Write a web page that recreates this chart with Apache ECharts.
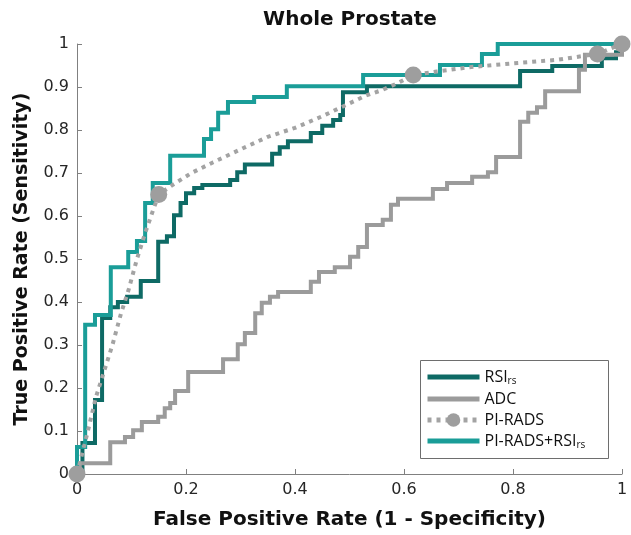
<!DOCTYPE html>
<html>
<head>
<meta charset="utf-8">
<script src="https://cdn.jsdelivr.net/npm/echarts@6/dist/echarts.min.js"></script>
<style>
html,body{margin:0;padding:0;background:#fff;}
#chart{width:631px;height:535px;}
</style>
</head>
<body>
<div id="chart"></div>
<script>
// ---- data ----
const titleText = 'Whole Prostate';
const xName = 'False Positive Rate (1 - Specificity)';
const yName = 'True Positive Rate (Sensitivity)';
const seriesNames = ['RSI_rs', 'ADC', 'PI-RADS', 'PI-RADS+RSI_rs'];
const xTicks = [0, 0.2, 0.4, 0.6, 0.8, 1];
const yTicks = [0, 0.1, 0.2, 0.3, 0.4, 0.5, 0.6, 0.7, 0.8, 0.9, 1];

// RSI_rs ROC step points (fpr, tpr)
const fprRSI = [0,0.01,0.033,0.046,0.061,0.075,0.092,0.117,0.149,0.165,0.178,0.19,0.2,0.215,0.23,0.281,0.294,0.308,0.358,0.372,0.387,0.429,0.45,0.47,0.483,0.488,0.532,0.813,0.872,0.963,0.989,1];
const tprRSI = [0,0.072,0.172,0.363,0.388,0.4,0.412,0.449,0.54,0.553,0.602,0.63,0.653,0.665,0.672,0.684,0.702,0.72,0.745,0.76,0.774,0.793,0.81,0.823,0.835,0.888,0.902,0.937,0.949,0.967,0.981,1];

// ADC ROC step points
const fprADC = [0,0.005,0.061,0.088,0.103,0.119,0.149,0.161,0.171,0.18,0.204,0.268,0.295,0.308,0.327,0.339,0.354,0.369,0.429,0.444,0.473,0.501,0.516,0.532,0.561,0.576,0.589,0.653,0.679,0.725,0.754,0.769,0.813,0.828,0.844,0.859,0.921,0.932,1];
const tprADC = [0,0.025,0.074,0.086,0.102,0.121,0.133,0.153,0.165,0.193,0.237,0.267,0.302,0.328,0.374,0.398,0.412,0.423,0.447,0.47,0.481,0.505,0.528,0.579,0.591,0.626,0.64,0.663,0.677,0.691,0.702,0.737,0.819,0.84,0.853,0.89,0.94,0.975,1];

// PI-RADS curve (dotted) and its operating points (markers)
const fprPIRADS = [0,0.01,0.02,0.035,0.05,0.065,0.08,0.095,0.11,0.125,0.14,0.15,0.175,0.21,0.25,0.3,0.35,0.4,0.45,0.5,0.53,0.56,0.59,0.617,0.66,0.72,0.8,0.88,0.955,1];
const tprPIRADS = [0,0.05,0.1,0.18,0.24,0.3,0.37,0.43,0.5,0.56,0.615,0.65,0.672,0.7,0.725,0.755,0.784,0.805,0.832,0.862,0.88,0.893,0.91,0.928,0.936,0.946,0.955,0.963,0.977,1];
const markerIdxPIRADS = [0, 11, 23, 28, 29];

// PI-RADS+RSI_rs ROC step points
const fprCombo = [0,0,0.015,0.033,0.062,0.094,0.11,0.125,0.139,0.171,0.233,0.246,0.259,0.277,0.325,0.385,0.525,0.666,0.743,0.772,1];
const tprCombo = [0,0.063,0.347,0.37,0.481,0.516,0.542,0.63,0.677,0.74,0.779,0.802,0.84,0.865,0.877,0.902,0.928,0.951,0.977,1,1];

// ---- build ----
const zip = (a, b) => a.map((v, i) => [v, b[i]]);
const colors = {rsi: '#0e6a65', adc: '#9b9b9b', pirads: '#a3a3a3', combo: '#1a9d98'};
const FONT = 'DejaVu Sans';
const markerSet = new Set(markerIdxPIRADS);

const legendLabel = n => n.endsWith('_rs') ? '{m|' + n.slice(0, -3) + '}{s|rs}' : '{m|' + n + '}';
const hiddenDot = {color: 'rgba(0,0,0,0)', borderWidth: 0, opacity: 0};

const chart = echarts.init(document.getElementById('chart'), null, {renderer: 'canvas'});
chart.setOption({
  animation: false,
  backgroundColor: '#fff',
  title: {
    text: titleText, left: 345, top: 5, textAlign: 'center',
    textStyle: {fontFamily: FONT, fontWeight: 'bold', fontSize: 20, color: '#111'}
  },
  grid: {left: 77, right: 9, top: 44, bottom: 61, containLabel: false},
  xAxis: {
    type: 'value', min: 0, max: 1, interval: 0.2,
    name: xName, nameLocation: 'middle', nameGap: 36,
    nameTextStyle: {fontFamily: FONT, fontWeight: 'bold', fontSize: 20, color: '#111'},
    axisLine: {show: true, lineStyle: {color: '#808080', width: 1}},
    axisTick: {show: true, inside: true, length: 5, lineStyle: {color: '#808080'}},
    axisLabel: {fontFamily: FONT, fontSize: 16, color: '#262626', margin: 8,
      formatter: v => xTicks.includes(+v.toFixed(2)) ? String(+v.toFixed(2)) : ''},
    splitLine: {show: false}
  },
  yAxis: {
    type: 'value', min: 0, max: 1, interval: 0.1,
    name: yName, nameLocation: 'middle', nameGap: 45, nameRotate: 90,
    nameTextStyle: {fontFamily: FONT, fontWeight: 'bold', fontSize: 19, color: '#111'},
    axisLine: {show: true, lineStyle: {color: '#808080', width: 1}},
    axisTick: {show: true, inside: true, length: 5, lineStyle: {color: '#808080'}},
    axisLabel: {fontFamily: FONT, fontSize: 16, color: '#262626', margin: 8,
      formatter: v => yTicks.includes(+v.toFixed(2)) ? String(+v.toFixed(2)) : ''},
    splitLine: {show: false}
  },
  legend: {
    orient: 'vertical', left: 425, top: 369, padding: 0,
    itemWidth: 52, itemHeight: 17, itemGap: 5,
    data: [
      {name: seriesNames[0], itemStyle: hiddenDot, lineStyle: {width: 5}},
      {name: seriesNames[1], itemStyle: hiddenDot, lineStyle: {width: 5}},
      {name: seriesNames[2], lineStyle: {width: 5}},
      {name: seriesNames[3], itemStyle: hiddenDot, lineStyle: {width: 5}}
    ],
    formatter: legendLabel,
    textStyle: {
      fontFamily: 'Open Sans', fontSize: 16, color: '#111',
      rich: {
        m: {fontFamily: 'Open Sans', fontSize: 16, color: '#111'},
        s: {fontFamily: 'Open Sans', fontSize: 10, color: '#111', padding: [8, 0, 0, 0]}
      }
    }
  },
  graphic: [{
    type: 'rect', left: 420, top: 360, z: 50, silent: true,
    shape: {width: 188, height: 98},
    style: {fill: 'transparent', stroke: '#6e6e6e', lineWidth: 1}
  }],
  series: [
    {
      name: seriesNames[0], type: 'line', step: 'end', data: zip(fprRSI, tprRSI),
      symbol: 'none', color: colors.rsi,
      lineStyle: {width: 4, color: colors.rsi, cap: 'butt', join: 'miter'}, z: 2
    },
    {
      name: seriesNames[1], type: 'line', step: 'end', data: zip(fprADC, tprADC),
      symbol: 'none', color: colors.adc,
      lineStyle: {width: 4, color: colors.adc, cap: 'butt', join: 'miter'}, z: 2
    },
    {
      name: seriesNames[2], type: 'line', data: zip(fprPIRADS, tprPIRADS),
      symbol: 'circle', showSymbol: true, showAllSymbol: true,
      symbolSize: (val, p) => markerSet.has(p.dataIndex) ? 17 : 0,
      color: colors.pirads,
      itemStyle: {color: '#9e9e9e'},
      lineStyle: {width: 4, color: colors.pirads, type: [4, 5], cap: 'butt'}, z: 3
    },
    {
      name: seriesNames[3], type: 'line', step: 'end', data: zip(fprCombo, tprCombo),
      symbol: 'none', color: colors.combo,
      lineStyle: {width: 4, color: colors.combo, cap: 'butt', join: 'miter'}, z: 2
    }
  ]
});
</script>
</body>
</html>
